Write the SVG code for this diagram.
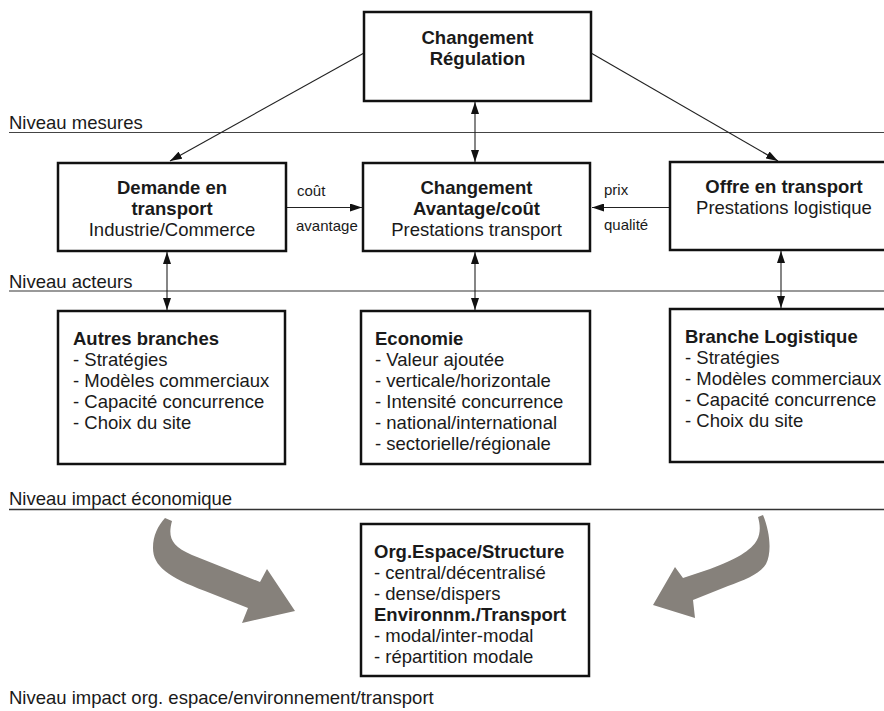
<svg xmlns="http://www.w3.org/2000/svg" width="884" height="711" viewBox="0 0 884 711">
  <defs>
    <marker id="ah" viewBox="0 0 12 8" refX="12" refY="4" markerWidth="12" markerHeight="8" markerUnits="userSpaceOnUse" orient="auto-start-reverse">
      <path d="M0,0 L12,4 L0,8 Z" fill="#111"/>
    </marker>
    <style>
      text { font-family: "Liberation Sans", Arial, Helvetica, sans-serif; fill: #1a1a1a; }
      .t { font-size: 18.5px; }
      .b { font-weight: bold; }
      .s { font-size: 15px; }
      .c { text-anchor: middle; }
      .box { fill: #fff; stroke: #111; stroke-width: 2.5; }
      .con { stroke: #222; stroke-width: 1.1; fill: none; }
      .lvl { font-size: 18.5px; }
      .big { fill: #86817b; }
    </style>
  </defs>
  <rect width="884" height="711" fill="#fff"/>

  <!-- level separators -->
  <g id="levels">
    <line x1="9" y1="132.5" x2="884" y2="132.5" stroke="#444" stroke-width="1.2"/>
    <text class="lvl" x="9" y="129">Niveau mesures</text>
    <line x1="9" y1="291" x2="884" y2="291" stroke="#999" stroke-width="1.8"/>
    <text class="lvl" x="9" y="288">Niveau acteurs</text>
    <line x1="9" y1="509.5" x2="884" y2="509.5" stroke="#333" stroke-width="1.3"/>
    <text class="lvl" x="9" y="505">Niveau impact économique</text>
    <text class="lvl" x="9" y="704">Niveau impact org. espace/environnement/transport</text>
  </g>

  <!-- connectors -->
  <g id="connectors" class="con">
    <line x1="364" y1="53" x2="170" y2="161" marker-end="url(#ah)"/>
    <line x1="591" y1="53" x2="778" y2="161" marker-end="url(#ah)"/>
    <line x1="475" y1="102" x2="475" y2="162" marker-start="url(#ah)" marker-end="url(#ah)"/>
    <line x1="287" y1="207.5" x2="362" y2="207.5" marker-end="url(#ah)"/>
    <line x1="669" y1="207.5" x2="592" y2="207.5" marker-end="url(#ah)"/>
    <line x1="167" y1="252" x2="167" y2="310" marker-start="url(#ah)" marker-end="url(#ah)"/>
    <line x1="475" y1="252" x2="475" y2="310" marker-start="url(#ah)" marker-end="url(#ah)"/>
    <line x1="781" y1="251" x2="781" y2="308" marker-start="url(#ah)" marker-end="url(#ah)"/>
  </g>

  <!-- connector labels -->
  <g id="connector-labels" class="s">
    <text x="297" y="196">coût</text>
    <text x="296" y="231">avantage</text>
    <text x="604" y="195">prix</text>
    <text x="604" y="230">qualité</text>
  </g>

  <!-- broad curved arrows toward the impact box -->
  <g id="impact-arrows" class="big">
    <path d="M165,518 L172,521 C168,536 170,546 192,555 L260,582 L267,569 L295,611 L242,623 L248,608 L205,591 C168,577 153,566 153,548 C153,535 158,526 165,518 Z"/>
    <path d="M758,517 L763,515 C770,532 772,552 766,564 C760,574 745,580 728,586 L693,600 L695,618 L653,605 L675,567 L683,578 L710,569 C735,560 752,550 757,540 C761,532 760,524 758,517 Z"/>
  </g>

  <g id="regulation">
    <rect class="box" x="364" y="12" width="227" height="89"/>
    <text class="t b c" x="477.5" y="44">Changement</text>
    <text class="t b c" x="477.5" y="65">Régulation</text>
  </g>

  <g id="demande">
    <rect class="box" x="58" y="163" width="228" height="88"/>
    <text class="t b c" x="172" y="194">Demande en</text>
    <text class="t b c" x="172" y="215">transport</text>
    <text class="t c" x="172" y="236">Industrie/Commerce</text>
  </g>

  <g id="avantage">
    <rect class="box" x="363" y="163" width="227" height="88"/>
    <text class="t b c" x="476.5" y="194">Changement</text>
    <text class="t b c" x="476.5" y="215">Avantage/coût</text>
    <text class="t c" x="476.5" y="236">Prestations transport</text>
  </g>

  <g id="offre">
    <rect class="box" x="670" y="162" width="240" height="88"/>
    <text class="t b c" x="784" y="193">Offre en transport</text>
    <text class="t c" x="784" y="214">Prestations logistique</text>
  </g>

  <g id="autres-branches">
    <rect class="box" x="58" y="311" width="227" height="153"/>
    <text class="t b" x="73" y="345">Autres branches</text>
    <text class="t" x="73" y="366">- Stratégies</text>
    <text class="t" x="73" y="387">- Modèles commerciaux</text>
    <text class="t" x="73" y="408">- Capacité concurrence</text>
    <text class="t" x="73" y="429">- Choix du site</text>
  </g>

  <g id="economie">
    <rect class="box" x="361" y="311" width="229" height="153"/>
    <text class="t b" x="375" y="345">Economie</text>
    <text class="t" x="375" y="366">- Valeur ajoutée</text>
    <text class="t" x="375" y="387">- verticale/horizontale</text>
    <text class="t" x="375" y="408">- Intensité concurrence</text>
    <text class="t" x="375" y="429">- national/international</text>
    <text class="t" x="375" y="450">- sectorielle/régionale</text>
  </g>

  <g id="branche-logistique">
    <rect class="box" x="670" y="309" width="240" height="153"/>
    <text class="t b" x="685" y="343">Branche Logistique</text>
    <text class="t" x="685" y="364">- Stratégies</text>
    <text class="t" x="685" y="385">- Modèles commerciaux</text>
    <text class="t" x="685" y="406">- Capacité concurrence</text>
    <text class="t" x="685" y="427">- Choix du site</text>
  </g>

  <g id="impact">
    <rect class="box" x="361" y="524" width="228" height="152"/>
    <text class="t b" x="374" y="558">Org.Espace/Structure</text>
    <text class="t" x="374" y="579">- central/décentralisé</text>
    <text class="t" x="374" y="600">- dense/dispers</text>
    <text class="t b" x="374" y="621">Environnm./Transport</text>
    <text class="t" x="374" y="642">- modal/inter-modal</text>
    <text class="t" x="374" y="663">- répartition modale</text>
  </g>
</svg>
